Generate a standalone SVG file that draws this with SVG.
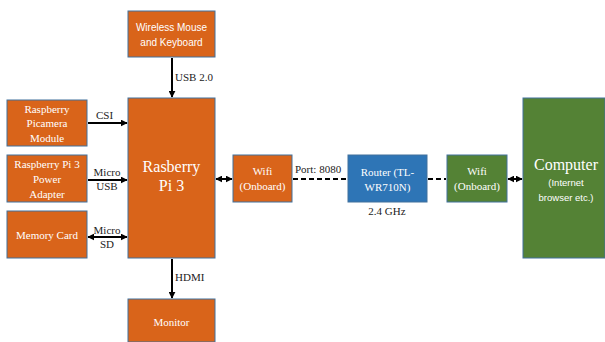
<svg xmlns="http://www.w3.org/2000/svg" width="605" height="342" viewBox="0 0 605 342">
<style>
.o{fill:#D9641A;stroke:#41719C;stroke-width:1}
.b{fill:#2E75B6;stroke:#41719C;stroke-width:1}
.g{fill:#548235;stroke:#41719C;stroke-width:1}
.t{font-family:'Liberation Serif','Times New Roman','DejaVu Serif',serif;font-size:11px;fill:#fff;text-anchor:middle}
.ts{font-family:'Liberation Sans',Arial,sans-serif;font-size:10px;fill:#fff;text-anchor:middle}
.l{font-family:'Liberation Serif','Times New Roman','DejaVu Serif',serif;font-size:11px;fill:#222}
.c{stroke:#000;stroke-width:2;fill:none}
.d{stroke:#000;stroke-width:2;fill:none;stroke-dasharray:5,3}
</style>
<defs>
<marker id="ah" viewBox="0 0 10 10" refX="9" refY="5" markerWidth="3.5" markerHeight="3.5" orient="auto-start-reverse"><path d="M0,0 L10,5 L0,10 z" fill="#000"/></marker>
</defs>
<rect width="605" height="342" fill="#fff"/>
<g id="connectors">
<line class="c" x1="172" y1="58" x2="172" y2="97" marker-end="url(#ah)"/>
<text class="l" x="175" y="81">USB 2.0</text>
<line class="c" x1="88" y1="123" x2="127" y2="123" marker-end="url(#ah)"/>
<text class="l" x="96" y="119">CSI</text>
<line class="c" x1="88" y1="180" x2="127" y2="180" marker-end="url(#ah)"/>
<text class="l" x="107" y="176" text-anchor="middle">Micro</text>
<text class="l" x="107" y="190" text-anchor="middle">USB</text>
<line class="c" x1="88" y1="237" x2="127" y2="237" marker-start="url(#ah)" marker-end="url(#ah)"/>
<text class="l" x="107" y="234" text-anchor="middle">Micro</text>
<text class="l" x="107" y="248" text-anchor="middle">SD</text>
<line class="c" x1="172" y1="259" x2="172" y2="298" marker-end="url(#ah)"/>
<text class="l" x="175" y="281">HDMI</text>
<line class="c" x1="216" y1="179" x2="232" y2="179" marker-start="url(#ah)" marker-end="url(#ah)"/>
<line class="d" x1="293" y1="179" x2="347" y2="179"/>
<text class="l" x="295" y="173">Port: 8080</text>
<line class="d" x1="428" y1="179" x2="446" y2="179"/>
<text class="l" x="387" y="215" text-anchor="middle">2.4 GHz</text>
<line class="c" x1="508" y1="179" x2="522" y2="179" marker-start="url(#ah)" marker-end="url(#ah)"/>
</g>
<g id="mouse"><rect class="o" x="128" y="11" width="87" height="46"/>
<text class="ts" x="171.5" y="31">Wireless Mouse</text><text class="ts" x="171.5" y="46">and Keyboard</text></g>
<g id="pi"><rect class="o" x="128" y="98" width="87" height="160"/>
<text class="t" x="171.5" y="172" style="font-size:16px">Rasberry</text><text class="t" x="171.5" y="191" style="font-size:16px">Pi 3</text></g>
<g id="camera"><rect class="o" x="7" y="100" width="80" height="46"/>
<text class="t" x="47" y="113">Raspberry</text><text class="t" x="47" y="127">Picamera</text><text class="t" x="47" y="142">Module</text></g>
<g id="power"><rect class="o" x="7" y="155" width="80" height="47"/>
<text class="t" x="47" y="168">Raspberry  Pi 3</text><text class="t" x="47" y="183">Power</text><text class="t" x="47" y="198">Adapter</text></g>
<g id="memory"><rect class="o" x="7" y="211" width="80" height="47"/>
<text class="t" x="47" y="239">Memory  Card</text></g>
<g id="monitor"><rect class="o" x="128" y="299" width="87" height="43"/>
<text class="t" x="171.5" y="326">Monitor</text></g>
<g id="wifi1"><rect class="o" x="233" y="155" width="59" height="47"/>
<text class="t" x="262.5" y="175">Wifi</text><text class="t" x="262.5" y="190">(Onboard)</text></g>
<g id="router"><rect class="b" x="348" y="155" width="79" height="47"/>
<text class="t" x="387.5" y="176">Router (TL-</text><text class="t" x="387.5" y="191">WR710N)</text></g>
<g id="wifi2"><rect class="g" x="447" y="155" width="60" height="47"/>
<text class="t" x="477" y="175">Wifi</text><text class="t" x="477" y="190">(Onboard)</text></g>
<g id="computer"><rect class="g" x="523" y="98" width="82" height="160"/>
<text class="t" x="566" y="170" style="font-size:16px">Computer</text>
<text class="ts" x="566" y="186" style="font-size:9.5px">(Internet</text><text class="ts" x="566" y="201" style="font-size:9.5px">browser etc.)</text></g>
</svg>
